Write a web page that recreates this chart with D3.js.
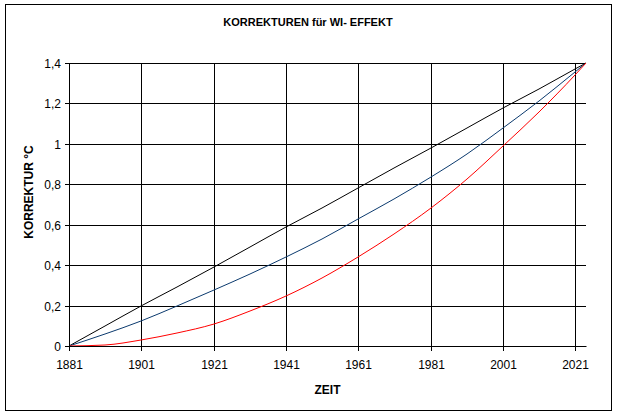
<!DOCTYPE html>
<html><head><meta charset="utf-8">
<script src="https://cdn.jsdelivr.net/npm/d3@7"></script>
<style>
html,body{margin:0;padding:0;background:#fff;}
svg{display:block;font-family:"Liberation Sans",Arial,sans-serif;}
</style></head>
<body>
<svg id="chart" width="618" height="418"></svg>
<script>
// ---- data ----
const years = [1881,1891,1901,1911,1921,1931,1941,1951,1961,1971,1981,1991,2001,2011,2021,2024];
const linear = [0,0.098,0.196,0.294,0.392,0.490,0.587,0.685,0.783,0.881,0.979,1.077,1.175,1.273,1.371,1.4];
const middle = [0,0.058,0.125,0.198,0.275,0.356,0.441,0.531,0.626,0.727,0.836,0.952,1.077,1.213,1.356,1.4];
const quadratic = [0,0.007,0.029,0.064,0.109,0.171,0.245,0.335,0.438,0.556,0.684,0.828,0.988,1.157,1.343,1.4];
const xTicks = [1881,1901,1921,1941,1961,1981,2001,2021];
const yTicks = [0,0.2,0.4,0.6,0.8,1,1.2,1.4];
const yTickLabels = ["0","0,2","0,4","0,6","0,8","1","1,2","1,4"];
const title = "KORREKTUREN für WI- EFFEKT";
const xTitle = "ZEIT";
const yTitle = "KORREKTUR °C";

const svg = d3.select("#chart");
svg.append("rect").attr("x",5.5).attr("y",4.5).attr("width",606).attr("height",406)
  .attr("fill","#fff").attr("stroke","#000").attr("stroke-width",1);

const x = d3.scaleLinear().domain([1881,2024]).range([69,586]).interpolate(d3.interpolateRound);
const y = d3.scaleLinear().domain([0,1.4]).range([346,63]).interpolate(d3.interpolateRound);

// gridlines
const gx = svg.append("g").attr("transform","translate(0,346)")
  .call(d3.axisBottom(x).tickValues(xTicks).tickSize(-(346-63)).tickSizeOuter(0).tickFormat(""));
gx.select(".domain").remove();
gx.selectAll("line").attr("stroke","#000");
const gy = svg.append("g").attr("transform","translate(69,0)")
  .call(d3.axisLeft(y).tickValues(yTicks).tickSize(-(586-69)).tickSizeOuter(0).tickFormat(""));
gy.select(".domain").remove();
gy.selectAll("line").attr("stroke","#000");

// series
const series = [
  {vals: linear, color: "#000000"},
  {vals: middle, color: "#0b3a6e"},
  {vals: quadratic, color: "#ff0000"}
];
const line = d3.line().x(d=>x(d[0])).y(d=>y(d[1])).curve(d3.curveMonotoneX);
series.forEach(s=>{
  svg.append("path").datum(years.map((yr,i)=>[yr,s.vals[i]]))
    .attr("d",line).attr("fill","none").attr("stroke",s.color).attr("stroke-width",1);
});

// axes
const ax = svg.append("g").attr("transform","translate(0,346)")
  .call(d3.axisBottom(x).tickValues(xTicks).tickSizeInner(5).tickSizeOuter(0).tickFormat(d3.format("d")));
ax.select(".domain").attr("stroke","#000");
ax.selectAll("line").attr("stroke","#000");
ax.selectAll("text").attr("y",23).attr("dy",0).attr("font-size",12).attr("font-family",null).attr("fill","#000");

const ay = svg.append("g").attr("transform","translate(69,0)")
  .call(d3.axisLeft(y).tickValues(yTicks).tickSizeInner(4).tickSizeOuter(0).tickFormat((d,i)=>yTickLabels[i]));
ay.select(".domain").attr("stroke","#000");
ay.selectAll("line").attr("stroke","#000");
ay.selectAll("text").attr("x",-8).attr("dy",4).attr("font-size",12).attr("font-family",null).attr("fill","#000");

// titles
svg.append("text").attr("x",308).attr("y",26).attr("text-anchor","middle")
  .attr("font-size",11).attr("font-weight","bold").text(title);
svg.append("text").attr("x",327.5).attr("y",394).attr("text-anchor","middle")
  .attr("font-size",12).attr("font-weight","bold").text(xTitle);
svg.append("text").attr("transform","translate(33,192) rotate(-90)").attr("text-anchor","middle")
  .attr("font-size",12).attr("font-weight","bold").text(yTitle);
</script>
</body></html>
